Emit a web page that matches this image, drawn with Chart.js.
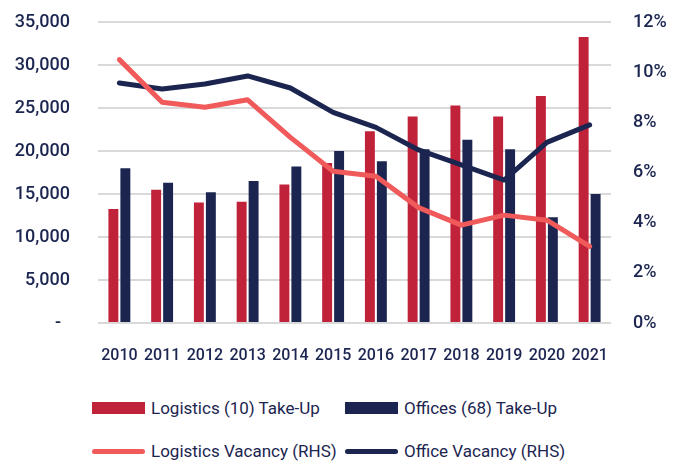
<!DOCTYPE html>
<html>
<head>
<meta charset="utf-8">
<script src="https://cdn.jsdelivr.net/npm/chart.js@4.4.1/dist/chart.umd.min.js"></script>
<style>
    body { margin: 0; background: #fff; }
    #wrap { position: relative; width: 681px; height: 464px; }
    #chartBox { position: absolute; left: 0; top: 0; width: 681px; height: 380px; }
    #legend {
        position: absolute; left: 92px; top: 396px;
        display: grid; grid-template-columns: 253px 253px; row-gap: 19px;
        font-family: Roboto, 'Liberation Sans', sans-serif;
        font-size: 17px; color: #1B2550;
    }
    .item { display: flex; align-items: center; height: 24px; white-space: nowrap; }
    .swatch { width: 53px; margin-right: 6px; }
    .box { height: 12px; }
    .line { height: 5px; border-radius: 3px; }
</style>
</head>
<body>
<div id="wrap">
    <div id="chartBox"><canvas id="chart"></canvas></div>
    <div id="legend"></div>
</div>
<script>
const years = ['2010', '2011', '2012', '2013', '2014', '2015', '2016', '2017', '2018', '2019', '2020', '2021'];
const logisticsTakeUp = [13250, 15500, 14000, 14100, 16100, 18600, 22300, 24000, 25300, 24000, 26400, 33250];
const officesTakeUp = [18000, 16300, 15200, 16500, 18200, 20000, 18800, 20200, 21300, 20200, 12300, 15000];
const logisticsVacancy = [10.5, 8.8, 8.6, 8.9, 7.4, 6.05, 5.85, 4.6, 3.9, 4.3, 4.1, 3.05];
const officeVacancy = [9.57, 9.33, 9.53, 9.85, 9.37, 8.4, 7.8, 6.9, 6.3, 5.7, 7.2, 7.9];

const RED = '#C0223A';
const NAVY = '#1B2550';
const CORAL = '#F05A5A';
const FONT = "Roboto, 'Liberation Sans', sans-serif";

const ctx = document.getElementById('chart').getContext('2d');

// fixed axis box sizes so the plot area lands where the original has it
function fitY(width) {
    return scale => {
        scale.width = width;
        scale.paddingTop = 0;
        scale.paddingBottom = 0;
    };
}

const chart = new Chart(ctx, {
    data: {
        labels: years,
        datasets: [
            {
                type: 'bar',
                label: 'Logistics (10) Take-Up',
                data: logisticsTakeUp,
                backgroundColor: RED,
                yAxisID: 'y',
                order: 1,
                categoryPercentage: 0.56,
                barPercentage: 0.83
            },
            {
                type: 'bar',
                label: 'Offices (68) Take-Up',
                data: officesTakeUp,
                backgroundColor: NAVY,
                yAxisID: 'y',
                order: 1,
                categoryPercentage: 0.56,
                barPercentage: 0.83
            },
            {
                type: 'line',
                label: 'Logistics Vacancy (RHS)',
                data: logisticsVacancy,
                borderColor: CORAL,
                backgroundColor: CORAL,
                borderWidth: 5,
                pointRadius: 0,
                borderCapStyle: 'round',
                borderJoinStyle: 'round',
                yAxisID: 'y1',
                order: 0
            },
            {
                type: 'line',
                label: 'Office Vacancy (RHS)',
                data: officeVacancy,
                borderColor: NAVY,
                backgroundColor: NAVY,
                borderWidth: 5,
                pointRadius: 0,
                borderCapStyle: 'round',
                borderJoinStyle: 'round',
                yAxisID: 'y1',
                order: 0
            }
        ]
    },
    options: {
        responsive: true,
        maintainAspectRatio: false,
        animation: false,
        layout: { padding: { top: 22, left: 0, right: 0, bottom: 0 } },
        plugins: {
            legend: { display: false },
            tooltip: { enabled: false }
        },
        scales: {
            x: {
                grid: { display: false, drawTicks: false },
                border: { display: false },
                ticks: { color: NAVY, font: { family: FONT, size: 16, weight: 500 }, padding: 23, maxRotation: 0, autoSkip: false },
                afterFit: scale => { scale.height = 57; }
            },
            y: {
                position: 'left',
                min: 0,
                max: 35000,
                grid: { color: '#D9D9D9', lineWidth: 2, drawTicks: false },
                border: { display: false },
                ticks: {
                    stepSize: 5000,
                    color: NAVY,
                    font: { family: FONT, size: 18, weight: 500 },
                    padding: 28,
                    callback: v => v === 0 ? '-  ' : v.toLocaleString('en-US')
                },
                afterFit: fitY(98)
            },
            y1: {
                position: 'right',
                min: 0,
                max: 12,
                grid: { display: false, drawTicks: false },
                border: { display: false },
                ticks: {
                    stepSize: 2,
                    color: NAVY,
                    font: { family: FONT, size: 18, weight: 500 },
                    padding: 22,
                    callback: v => v + '%'
                },
                afterFit: fitY(70)
            }
        }
    }
});

// legend built from the chart datasets
const legendEl = document.getElementById('legend');
chart.data.datasets.forEach(ds => {
    const item = document.createElement('div');
    item.className = 'item';
    const sw = document.createElement('span');
    sw.className = 'swatch ' + (ds.type === 'bar' ? 'box' : 'line');
    sw.style.background = ds.type === 'bar' ? ds.backgroundColor : ds.borderColor;
    const txt = document.createElement('span');
    txt.textContent = ds.label;
    item.appendChild(sw);
    item.appendChild(txt);
    legendEl.appendChild(item);
});
</script>
</body>
</html>
